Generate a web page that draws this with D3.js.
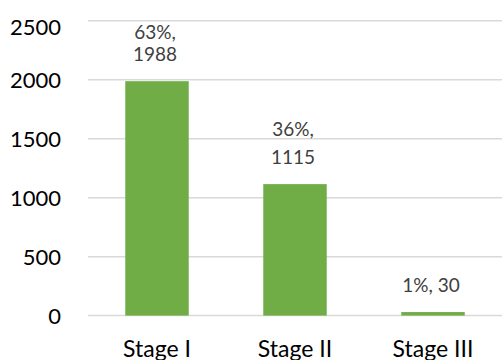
<!DOCTYPE html>
<html><head><meta charset="utf-8">
<script src="https://cdn.jsdelivr.net/npm/d3@7"></script>
<style>html,body{margin:0;padding:0;background:#fff;}svg{display:block;}</style>
</head><body>
<svg id="chart" width="503" height="360"></svg>
<script>
const categories = ["Stage I", "Stage II", "Stage III"];
const values = [1988, 1115, 30];
const percents = ["63%", "36%", "1%"];
const yTicks = [0, 500, 1000, 1500, 2000, 2500];

const W = 503, H = 360;
const svg = d3.select("#chart");
const font = "Lato, 'Open Sans', sans-serif";

const x = d3.scaleBand().domain(categories).range([88, 502]).paddingInner(0.54).paddingOuter(0.27);
const y = d3.scaleLinear().domain([0, 2500]).range([315.6, 20.8]);

// gridlines
svg.append("g").selectAll("line").data(yTicks).join("line")
  .attr("x1", 88).attr("x2", 502)
  .attr("y1", d => y(d)).attr("y2", d => y(d))
  .attr("stroke", "#d9d9d9").attr("stroke-width", 1.5);

// y tick labels
svg.append("g").selectAll("text").data(yTicks).join("text")
  .attr("x", 61).attr("y", d => Math.max(y(d), 26))
  .attr("text-anchor", "end").attr("dominant-baseline", "central")
  .attr("font-family", font).attr("font-size", 22).attr("fill", "#000")
  .text(d => d);

// bars
svg.append("g").selectAll("rect").data(values).join("rect")
  .attr("x", (d, i) => x(categories[i]))
  .attr("width", x.bandwidth())
  .attr("y", d => y(d))
  .attr("height", d => y(0) - y(d))
  .attr("fill", "#70ad47");

// data labels
const lbl = svg.append("g");
values.forEach((v, i) => {
  const cx = x(categories[i]) + x.bandwidth() / 2 - 2;
  const base = y(v) - 20;
  const t = lbl.append("text")
    .attr("text-anchor", "middle")
    .attr("font-family", font).attr("font-size", 19).attr("fill", "#404040");
  if (v > 500) {
    const gap = i === 0 ? 22 : 28;
    t.append("tspan").attr("x", cx).attr("y", base - gap).text(percents[i] + ",");
    t.append("tspan").attr("x", cx).attr("y", base).text(v);
  } else {
    t.append("tspan").attr("x", cx).attr("y", base).text(percents[i] + ", " + v);
  }
});

// category labels
svg.append("g").selectAll("text").data(categories).join("text")
  .attr("x", d => x(d) + x.bandwidth() / 2)
  .attr("y", 356.5)
  .attr("text-anchor", "middle")
  .attr("font-family", font).attr("font-size", 23).attr("fill", "#000")
  .text(d => d);
</script>
</body></html>
